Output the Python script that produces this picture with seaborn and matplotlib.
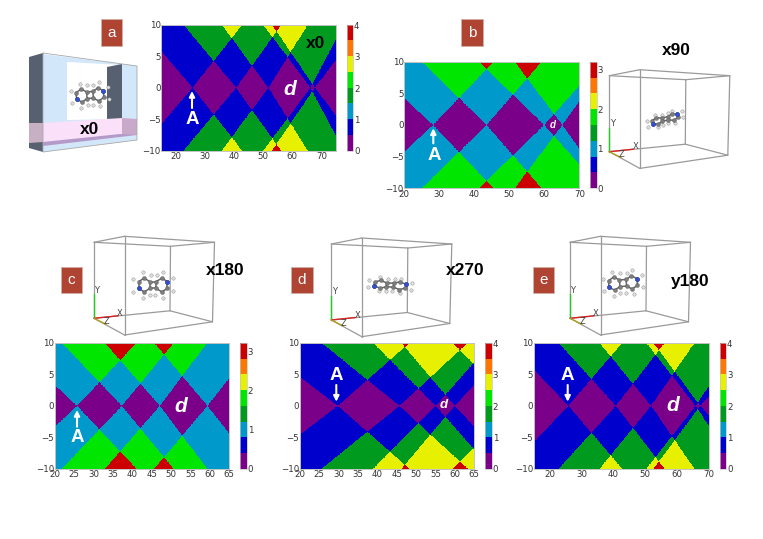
import numpy as np
import pandas as pd
import seaborn as sns
import matplotlib.pyplot as plt
from matplotlib.colors import ListedColormap
from matplotlib.patches import Polygon, Rectangle

W, H = 763, 539

# colours of the 8 colorbar bins
colores = ["#7b0089", "#0000cc", "#0099cc", "#009a1e", "#00e600", "#e6f000", "#ff7700", "#cc0000"]

# each panel: zero bias crossing of the cones and the slope of their left / right edges
a_centros = [25.7, 40.7, 51.8, 66.3, 67.8]
a_izq = [0.54, 0.553, 0.624, 0.615, 0.678]
a_der = [0.587, 0.647, 0.74, 0.883, 0.61]

b_centros = [28.2, 43.5, 60.0, 65.2]
b_izq = [0.508, 0.54, 0.536, 0.735]
b_der = [0.58, 0.635, 0.62, 0.77]

c_centros = [25.75, 37.3, 47.1, 59.4]
c_izq = [0.571, 0.648, 0.71, 0.73]
c_der = [0.655, 0.753, 0.82, 0.78]

d_centros = [29.8, 45.7, 55.1, 60.0, 76.0]
d_izq = [0.471, 0.50, 0.62, 0.729, 0.605]
d_der = [0.543, 0.568, 0.704, 0.66, 0.6]

e_centros = [25.75, 40.7, 51.8, 65.8, 67.3]
e_izq = [0.532, 0.558, 0.619, 0.649, 0.68]
e_der = [0.593, 0.654, 0.735, 0.76, 0.55]

# small molecule sketch, px offsets from its centre
pesado_x = [-13, -8, -3, -3, -8, -13, 3, 8, 13, 13, 8, 3]
pesado_y = [-3, -6, -3, 3, 6, 3, -3, -6, -3, 3, 6, 3]
enlaces = [(0, 1), (1, 2), (2, 3), (3, 4), (4, 5), (5, 0), (2, 6), (3, 11), (6, 7), (7, 8), (8, 9), (9, 10), (10, 11), (11, 6)]
nitro_x = [-13, 13]
nitro_y = [3, -3]
hidro_x = [-18, -18, -9, -9, 9, 9, 18, 18, -2, 2, -3, 4]
hidro_y = [-5, 6, -11, 11, -11, 11, -6, 5, -9, 9, 9, -9]

sns.set_theme(style="white")
plt.rcParams["font.family"] = ["DejaVu Sans"]

fig = plt.figure(figsize=(W / 100, H / 100), dpi=100)
cmap = ListedColormap(colores)


def rect_px(x0, y0, x1, y1):
    return [x0 / W, 1 - y1 / H, (x1 - x0) / W, (y1 - y0) / H]


def panel(caja, caja_cbar, centros, izq, der, xlim, xticks, vmax, cticks):
    """Mapa de cuantos conos cubren cada punto (x, V)"""
    x = np.linspace(xlim[0], xlim[1], 420)
    v = np.linspace(-10, 10, 320)
    xx, vv = np.meshgrid(x, v)
    cuenta = np.zeros_like(xx)
    for c, si, sd in zip(centros, izq, der):
        borde = np.where(xx < c, si * (c - xx), sd * (xx - c))
        cuenta += np.abs(vv) > borde
    df = pd.DataFrame(cuenta, index=v, columns=x)

    ax = fig.add_axes(rect_px(*caja))
    cax = fig.add_axes(rect_px(*caja_cbar))
    sns.heatmap(df, ax=ax, cbar_ax=cax, cmap=cmap, vmin=0, vmax=vmax, xticklabels=False, yticklabels=False)
    ax.invert_yaxis()

    ax.set_xticks([(t - xlim[0]) / (xlim[1] - xlim[0]) * len(x) for t in xticks])
    ax.set_xticklabels([str(t) for t in xticks], rotation=0)
    yticks = [-10, -5, 0, 5, 10]
    ax.set_yticks([(t + 10) / 20 * len(v) for t in yticks])
    ax.set_yticklabels([str(t).replace("-", "\u2212") for t in yticks], rotation=0)
    ax.tick_params(length=0, labelsize=6.2, colors="#333333")
    ax.tick_params(axis="x", pad=1)
    ax.tick_params(axis="y", pad=0.5)
    for s in ax.spines.values():
        s.set_visible(True)
        s.set_color("#c4c4c4")
        s.set_linewidth(0.7)

    cbar = ax.collections[0].colorbar
    cbar.set_ticks(cticks)
    cbar.set_ticklabels([str(t) for t in cticks])
    cax.tick_params(length=0, pad=0.5, labelsize=6.2, colors="#333333")
    cbar.outline.set_edgecolor("#c4c4c4")
    cbar.outline.set_linewidth(0.5)


panel((161.3, 24.7, 336, 150.7), (346.7, 24.7, 353.3, 150.7), a_centros, a_izq, a_der,
      (15, 75), [20, 30, 40, 50, 60, 70], 4.02, [0, 1, 2, 3, 4])
panel((404.3, 61.7, 579.3, 188.3), (590, 61.7, 596.7, 188.3), b_centros, b_izq, b_der,
      (20, 70), [20, 30, 40, 50, 60, 70], 3.21, [0, 1, 2, 3])
panel((54.7, 343, 229.3, 468.7), (240.3, 343, 247, 468.7), c_centros, c_izq, c_der,
      (20, 65), [20, 25, 30, 35, 40, 45, 50, 55, 60, 65], 3.21, [0, 1, 2, 3])
panel((299.7, 343, 474.3, 468.7), (485.3, 343, 492, 468.7), d_centros, d_izq, d_der,
      (20, 65), [20, 25, 30, 35, 40, 45, 50, 55, 60, 65], 4.02, [0, 1, 2, 3, 4])
panel((534, 343, 709, 468.7), (719.7, 343, 726.3, 468.7), e_centros, e_izq, e_der,
      (15, 70), [20, 30, 40, 50, 60, 70], 4.02, [0, 1, 2, 3, 4])

# capa en pixeles para los recuadros, moleculas y anotaciones
capa = fig.add_axes([0, 0, 1, 1], zorder=10)
capa.set_xlim(0, W)
capa.set_ylim(H, 0)
capa.axis("off")
capa.patch.set_alpha(0)


def molecula(cx, cy, ex=1.0, ey=1.0, giro=0.0):
    t = np.radians(giro)

    def pos(xs, ys):
        xs, ys = np.array(xs) * ex, np.array(ys) * ey
        return cx + xs * np.cos(t) - ys * np.sin(t), cy + xs * np.sin(t) + ys * np.cos(t)

    px, py = pos(pesado_x, pesado_y)
    hx, hy = pos(hidro_x, hidro_y)
    nx, ny = pos(nitro_x, nitro_y)
    for i, j in enlaces:
        capa.plot([px[i], px[j]], [py[i], py[j]], color="#666666", lw=1.1, zorder=2)
    capa.scatter(hx, hy, s=6, color="#dddddd", edgecolor="#888888", linewidth=0.3, zorder=3)
    capa.scatter(px, py, s=8, color="#7d7d7d", edgecolor="#555555", linewidth=0.3, zorder=4)
    capa.scatter(nx, ny, s=9, color="#3050d8", edgecolor="#223399", linewidth=0.3, zorder=5)


def caja_3d(ex, ey):
    A, B, C, D = (0, -76), (30.5, -82), (120.5, -76), (76.5, -72)
    F, G, I = (30.5, 16.7), (118.5, 3.5), (76, -7.5)
    O = (0, 0)
    tramos = [(A, B), (B, C), (C, D), (D, A), (A, O), (B, F), (D, I), (C, G), (O, F), (F, G), (G, I), (I, O)]
    for p, q in tramos:
        capa.plot([ex + p[0], ex + q[0]], [ey + p[1], ey + q[1]], color="#9a9a9a", lw=0.9, zorder=1)
    capa.plot([ex, ex], [ey, ey - 24], color="#22cc22", lw=1.0, zorder=2)
    capa.plot([ex, ex + 24], [ey, ey - 2.5], color="#dd2222", lw=1.0, zorder=2)
    capa.plot([ex, ex + 12], [ey, ey + 6], color="#b0a020", lw=1.0, zorder=2)
    capa.text(ex + 3, ey - 28, "Y", fontsize=6, color="#444444", ha="center", va="center")
    capa.text(ex + 26, ey - 5, "X", fontsize=6, color="#444444", ha="center", va="center")
    capa.text(ex + 12, ey + 3, "Z", fontsize=6, color="#444444", ha="center", va="center")


caja_3d(609.3, 151.7)
caja_3d(94, 318.3)
caja_3d(331.3, 320)
caja_3d(570, 318.3)
molecula(665, 119, 1.0, 0.55, -14)
molecula(153, 285, 1.1, 1.15, 0)
molecula(390, 285, 1.2, 0.65, 4)
molecula(623, 283, 1.1, 1.1, -4)

# dibujo del panel a
partes_a = [
    ([(43, 54), (137, 66), (137, 140), (43, 152)], "#d3e7fb"),
    ([(67, 62), (122, 65), (122, 119), (67, 120)], "#ffffff"),
    ([(107, 67), (122, 64), (122, 119), (107, 119)], "#566070"),
    ([(29, 57), (43, 53), (43, 123), (29, 123)], "#566070"),
    ([(43, 123), (122, 118), (137, 119), (137, 135), (43, 142)], "#fbe0fa"),
    ([(122, 118), (137, 119), (137, 135), (122, 135)], "#c9a9c9"),
    ([(29, 123), (43, 123), (43, 143), (29, 143)], "#c8b0c4"),
    ([(29, 143), (43, 142), (43, 152), (29, 148)], "#566070"),
    ([(43, 142), (120, 134), (137, 135), (43, 146)], "#b49ac8"),
]
for puntos, color in partes_a:
    capa.add_patch(Polygon(puntos, closed=True, facecolor=color, edgecolor="none", zorder=1))
capa.plot([43, 43, 137, 137, 43], [53, 152, 140, 66, 53], color="#a8a8a8", lw=0.6, zorder=1)
molecula(90, 95, 1.05, 1.1, -4)

# letras de cada panel
letras = [("a", 100.7, 19.3, 21, 26.7), ("b", 461.3, 19.3, 22, 26.7), ("c", 60.7, 267.3, 21.3, 25.4),
          ("d", 291, 267.3, 21.7, 25.4), ("e", 533.3, 267.3, 21, 25.4)]
for txt, x, y, ancho, alto in letras:
    capa.add_patch(Rectangle((x, y), ancho, alto, facecolor="#b04433", edgecolor="#d0b0a8", lw=0.5, zorder=6))
    capa.text(x + ancho / 2, y + alto / 2, txt, color="white", fontsize=11, family="Liberation Sans",
              ha="center", va="center", zorder=7)

nombres = [("x0", 90, 129), ("x0", 315.7, 43.3), ("x90", 676.3, 50.7), ("x180", 225, 270.7),
           ("x270", 465, 270.7), ("y180", 690, 281.7)]
for txt, x, y in nombres:
    capa.text(x, y, txt, color="black", fontsize=12.5, fontweight="bold", family="Liberation Sans",
              ha="center", va="center", zorder=7)

flechas = [(192, 108, 192, 91, 192.7, 119.3), (433.3, 143.3, 433.3, 128.3, 434, 155.7), (77, 426.7, 77, 410, 77, 437.7),
           (336.3, 385, 336.3, 401.7, 336.3, 375.7), (567.7, 385, 567.7, 401.7, 567.7, 375.7)]
for x0, y0, x1, y1, xa, ya in flechas:
    capa.annotate("", xy=(x1, y1), xytext=(x0, y0), zorder=7,
                  arrowprops=dict(arrowstyle="-|>", color="white", lw=1.5, mutation_scale=8, shrinkA=0, shrinkB=0))
    capa.text(xa, ya, "A", color="white", fontsize=13.5, fontweight="bold", family="Liberation Sans",
              ha="center", va="center", zorder=7)

etiquetas_d = [(289.3, 89.3, 15), (552.7, 125, 7), (180.7, 406, 15), (444, 405, 9.5), (672.3, 405.7, 15)]
for x, y, tam in etiquetas_d:
    capa.text(x, y, "d", color="white", fontsize=tam, fontweight="bold", fontstyle="italic",
              family="Liberation Sans", ha="center", va="center", zorder=7)

fig.savefig("out.png", dpi=100)
